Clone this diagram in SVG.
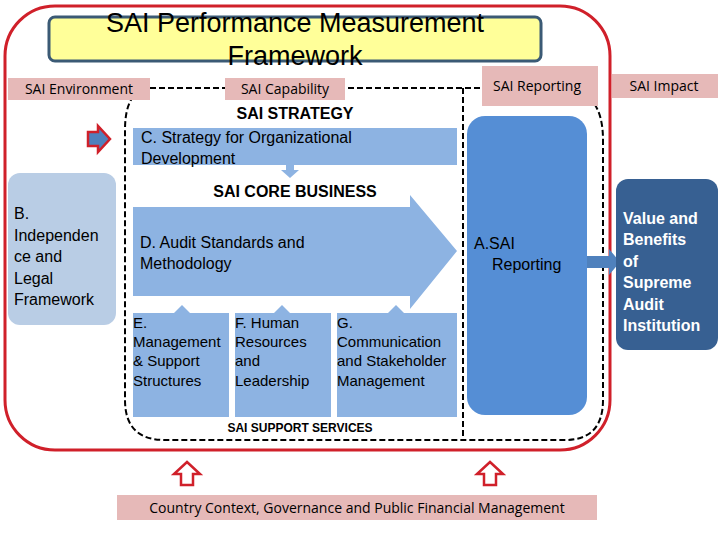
<svg xmlns="http://www.w3.org/2000/svg" width="720" height="540" viewBox="0 0 720 540">
<style>
.s{font-family:"Liberation Sans",Arial,sans-serif}
.c{font-family:"Open Sans","DejaVu Sans",sans-serif;font-size:14px}
.b{font-weight:bold}
.pink{fill:#e6b9b8}
.lb{fill:#8db3e2}
</style>
<rect width="720" height="540" fill="#fff"/>
<rect x="5" y="6" width="605" height="444" rx="50" fill="none" stroke="#d0202a" stroke-width="3"/>
<g id="title"><rect x="49" y="17" width="492" height="44" rx="6" fill="#ffff99" stroke="#3b5a75" stroke-width="3"/>
<text class="s" font-size="27" text-anchor="middle" x="295" y="32">SAI Performance Measurement</text>
<text class="s" font-size="27" text-anchor="middle" x="295" y="65">Framework</text></g>
<g id="connectors" fill="none" stroke="#000" stroke-width="2" stroke-dasharray="6,3">
<path d="M150,88 H560 Q603,88 603,140 V400 Q603,440 565,440 H165 Q125,440 125,400 V130 Q125,90 150,88"/>
<path d="M463,88 V440"/>
</g>
<g id="environment"><rect class="pink" x="8" y="78" width="142" height="22"/><text class="c" x="79" y="94" text-anchor="middle">SAI Environment</text></g>
<g id="capability"><rect class="pink" x="225" y="78" width="120" height="22"/><text class="c" x="285" y="94" text-anchor="middle">SAI Capability</text></g>
<g id="reporting"><rect class="pink" x="482" y="66" width="116" height="40"/><text class="c" x="537" y="91" text-anchor="middle">SAI Reporting</text></g>
<g id="impact"><rect class="pink" x="612" y="74" width="106" height="24"/><text class="c" x="664" y="91" text-anchor="middle">SAI Impact</text></g>
<text class="s b" font-size="16" x="295" y="119" text-anchor="middle">SAI STRATEGY</text>
<g id="C"><rect class="lb" x="133" y="128" width="324" height="37"/>
<text class="s" font-size="16" x="141" y="143">C. Strategy for Organizational</text>
<text class="s" font-size="16" x="141" y="164">Development</text>
<path d="M286,165 h8 v5 h5 l-9,8 l-9,-8 h5z" fill="#8db3e2"/></g>
<path d="M88,132 h10 v-6 l12,13 l-12,13 v-6 h-10z" fill="#4f81bd" stroke="#d0202a" stroke-width="2.5"/>
<text class="s b" font-size="16" x="295" y="197" text-anchor="middle">SAI CORE BUSINESS</text>
<g id="B"><rect x="8" y="173" width="108" height="152" rx="12" fill="#b9cde5"/>
<text class="s" font-size="16" x="14" y="219">B.</text><text class="s" font-size="16" x="14" y="241">Independen</text><text class="s" font-size="16" x="14" y="262">ce and</text><text class="s" font-size="16" x="14" y="284">Legal</text><text class="s" font-size="16" x="14" y="305">Framework</text></g>
<g id="D"><path d="M133,207 H410 V195 L457,251 L410,309 V296 H133Z" fill="#8db3e2"/>
<text class="s" font-size="16" x="140" y="248">D. Audit Standards and</text>
<text class="s" font-size="16" x="140" y="269">Methodology</text></g>
<g fill="#8db3e2"><path d="M174,313 l8,-8 l8,8z"/><path d="M274,313 l8,-8 l8,8z"/><path d="M388,313 l8,-8 l8,8z"/></g>
<g id="E"><rect class="lb" x="133" y="313" width="96" height="104"/><text class="s" font-size="15" x="133"><tspan x="133" y="328">E.</tspan><tspan x="133" y="347">Management</tspan><tspan x="133" y="366">&amp; Support</tspan><tspan x="133" y="386">Structures</tspan></text></g>
<g id="F"><rect class="lb" x="235" y="313" width="96" height="104"/><text class="s" font-size="15"><tspan x="235" y="328">F. Human</tspan><tspan x="235" y="347">Resources</tspan><tspan x="235" y="366">and</tspan><tspan x="235" y="386">Leadership</tspan></text></g>
<g id="G"><rect class="lb" x="337" y="313" width="120" height="104"/><text class="s" font-size="15"><tspan x="337" y="328">G.</tspan><tspan x="337" y="347">Communication</tspan><tspan x="337" y="366">and Stakeholder</tspan><tspan x="337" y="386">Management</tspan></text></g>
<text class="s b" font-size="12" x="300" y="432" text-anchor="middle">SAI SUPPORT SERVICES</text>
<g id="A"><rect x="467" y="116" width="120" height="299" rx="18" fill="#558ed5"/>
<text class="s" font-size="16" x="474" y="249">A.SAI</text><text class="s" font-size="16" x="492" y="270">Reporting</text></g>
<path d="M587,256 h22 v-7 l11,13 l-11,13 v-7 h-22z" fill="#4f81bd"/>
<g id="valuebox"><rect x="616" y="179" width="102" height="171" rx="12" fill="#376092"/>
<text class="s b" font-size="16" fill="#fff"><tspan x="623" y="224">Value and</tspan><tspan x="623" y="245">Benefits</tspan><tspan x="623" y="267">of</tspan><tspan x="623" y="288">Supreme</tspan><tspan x="623" y="310">Audit</tspan><tspan x="623" y="331">Institution</tspan></text></g>
<g fill="#fff" stroke="#d0202a" stroke-width="2.5"><path d="M187,462 l13,12 h-7 v11 h-12 v-11 h-7z"/><path d="M490,462 l13,12 h-7 v11 h-12 v-11 h-7z"/></g>
<g id="country"><rect class="pink" x="117" y="495" width="480" height="25"/><text class="c" x="357" y="513" text-anchor="middle">Country Context, Governance and Public Financial Management</text></g>
</svg>
